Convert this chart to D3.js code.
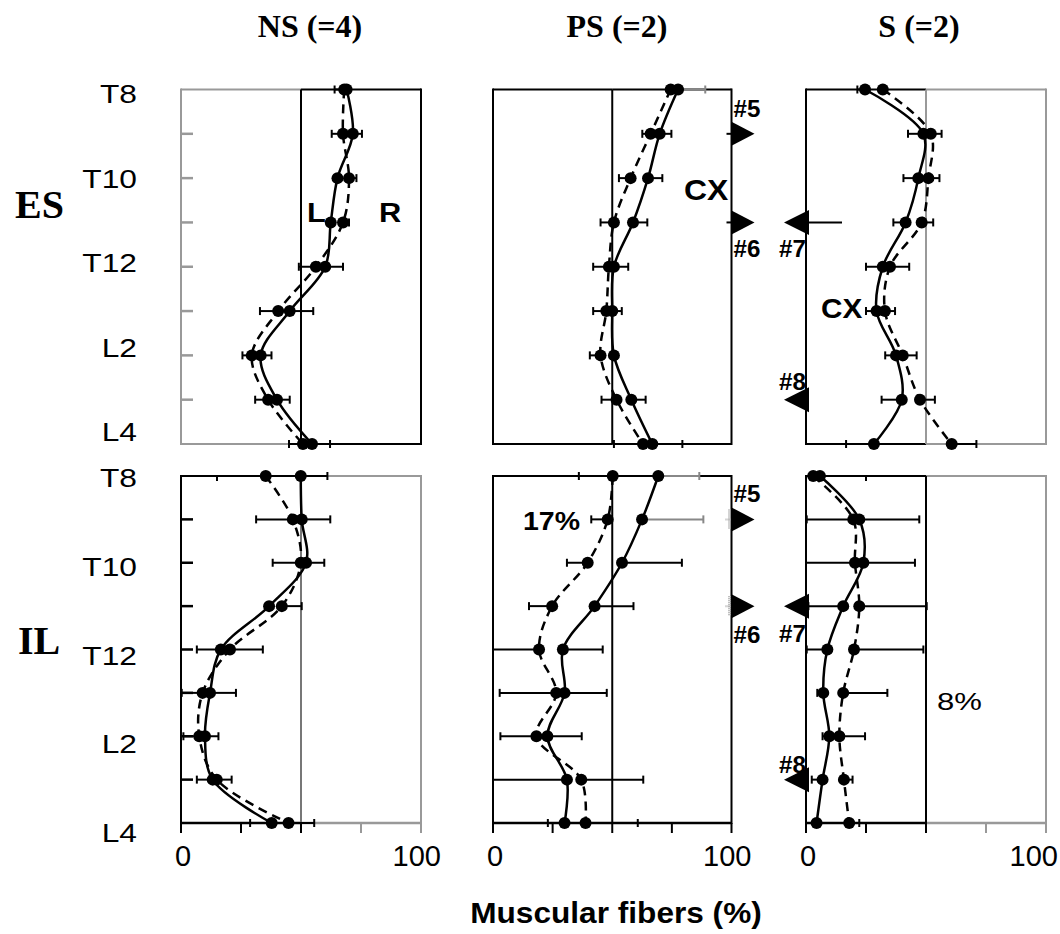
<!DOCTYPE html>
<html lang="en">
<head>
<meta charset="UTF-8">
<script src="https://d3js.org/d3.v7.min.js"></script>
<style>
  body { margin: 0; background: #fff; }
</style>
</head>
<body>
<div id="chart"></div>
<script>
// vertebral levels, top to bottom
const levels = ["T8", "T9", "T10", "T11", "T12", "L1", "L2", "L3", "L4"]
const levelLabels = ["T8", "T10", "T12", "L2", "L4"]
const xTicks = [0, 25, 50, 75, 100]
const columns = ["NS (=4)", "PS (=2)", "S (=2)"]
const rows = ["ES", "IL"]

// ES row (% muscular fibers), solid and dashed side, error bar ends
const nsEsSolid  = [69, 71.6, 65.2, 62.4, 60.1, 45.3, 33.2, 40, 54.6]
const nsEsDashed = [68, 67.5, 70, 67.5, 56.2, 40.5, 29.5, 36.3, 50.8]
const nsEsLo     = [64, 62.8, null, null, 49.1, 32.9, 25.6, 30.9, 45]
const nsEsHi     = [null, 75.4, 73.1, 70, 67.5, 55.1, 37.7, 45.3, 62.1]

const psEsSolid  = [77.6, 69.9, 65, 58.7, 50.7, 50, 50.7, 58, 66.8]
const psEsDashed = [74.5, 66.1, 57.7, 50.7, 48.6, 47.5, 45.1, 51.8, 62.9]
const psEsLo     = [null, 62.6, 52.8, 45.1, 42, 42, 40.6, 45.5, 50.7]
const psEsHi     = [89, 74.8, 71, 64.7, 56.7, 54, 52, 64, 79.4]

const sEsSolid  = [24.6, 48.9, 46.8, 41.5, 32, 29.4, 37.5, 39.9, 28.3]
const sEsDashed = [32, 52, 51, 48.2, 35, 32.9, 40.3, 47.5, 60.7]
const sEsLo     = [21.4, 42.5, 40.6, 36.4, 25, 25, 33, 31.5, 16.7]
const sEsHi     = [null, 56.5, 55.6, 53, 43, 37.1, 46.1, 53.7, 71]

// IL row
const nsIlSolid  = [49.9, 50.3, 52.1, 36.7, 16.6, 12.1, 10, 13.2, 37.8]
const nsIlDashed = [35.3, 46.6, 49.9, 42, 20.4, 9, 7.6, 14.9, 44.8]
const nsIlLo     = [null, 31.3, 38.2, null, 6.6, 0.3, 1, 6.6, 28.8]
const nsIlHi     = [61, 62.2, 59.7, 50.3, 34.1, 22.9, 15.6, 21.1, 55.5]

const psIlSolid  = [69.3, 62.5, 54.1, 42.6, 29.3, 30, 22.8, 31, 30]
const psIlDashed = [50.2, 48.1, 39.7, 24.8, 19.3, 26.5, 18.2, 37, 38.8]
const psIlLo     = [36, 41.2, 31, 15.1, 0, 2.8, 3.1, 0, 23]
const psIlHi     = [86.5, 88.2, 79.2, 58.9, 46, 47.7, 37.2, 63, 60.7]

const sIlSolid  = [5.8, 22.2, 23.9, 15.5, 8.9, 7.2, 9.7, 6.9, 4.4]
const sIlDashed = [3, 19.7, 20.4, 22.2, 20, 15.5, 13.9, 15.8, 18]
const sIlLo     = [null, 0.3, 0, 1, 0.3, 4.7, 6.9, 2.4, null]
const sIlHi     = [null, 47.2, 45.4, 50.3, 48.9, 33.9, 24.6, 19.4, 22.2]

const width = 1060, height = 934
const black = "#000", gray = "#999"

var svg = d3.select("#chart").append("svg")
    .attr("width", width)
    .attr("height", height)
    .style("background", "#fff")

// one x scale per column, one y scale per row
const xs = [[181, 421], [493, 731.5], [806, 1046]].map(r => d3.scaleLinear().domain([0, 100]).range(r))
const ys = [[89.5, 444], [476, 823]].map(r => d3.scalePoint().domain(levels).range(r))
const labelY = [[94, 432], [478, 833]].map(r => d3.scalePoint().domain(levelLabels).range(r))

function txt(x0, y0, s, o) {
    return svg.append("text")
        .attr("transform", "translate(" + x0 + "," + y0 + ") scale(" + (o.sx || 1) + ",1)")
        .attr("text-anchor", o.anchor || "start")
        .style("font-family", o.serif ? "'Liberation Serif','Times New Roman',serif" : "'Liberation Sans',Arial,sans-serif")
        .style("font-size", o.size + "px")
        .style("font-weight", o.bold ? "bold" : "normal")
        .attr("fill", "#000")
        .text(s)
}

function seg(x1, y1, x2, y2, color, w, dash) {
    svg.append("line")
        .attr("x1", x1).attr("y1", y1).attr("x2", x2).attr("y2", y2)
        .attr("stroke", color).attr("stroke-width", w || 2)
        .attr("stroke-dasharray", dash || null)
}

const panels = [
    { col: 0, row: 0, solid: nsEsSolid, dashed: nsEsDashed, lo: nsEsLo, hi: nsEsHi,
      left: gray, right: black, mid: black, leftTicks: gray },
    { col: 1, row: 0, solid: psEsSolid, dashed: psEsDashed, lo: psEsLo, hi: psEsHi,
      left: black, right: black, mid: black, grayHi: ["T8"],
      arrows: [["T9", "right"], ["T11", "right"]] },
    { col: 2, row: 0, solid: sEsSolid, dashed: sEsDashed, lo: sEsLo, hi: sEsHi,
      left: black, right: gray, mid: gray,
      arrows: [["T11", "left", 15], ["L3", "left"]] },
    { col: 0, row: 1, solid: nsIlSolid, dashed: nsIlDashed, lo: nsIlLo, hi: nsIlHi,
      left: black, right: gray, mid: "#777", leftTicks: black, topTick: 15, axis: true },
    { col: 1, row: 1, solid: psIlSolid, dashed: psIlDashed, lo: psIlLo, hi: psIlHi,
      left: black, right: black, mid: black, axis: true, grayHi: ["T8", "T9"], fuzzy: true,
      arrows: [["T9", "right"], ["T11", "right"]] },
    { col: 2, row: 1, solid: sIlSolid, dashed: sIlDashed, lo: sIlLo, hi: sIlHi,
      left: black, right: gray, mid: black, topTick: 25, axis: true,
      arrows: [["T11", "left"], ["L3", "left"]] }
]

panels.forEach(function (p) {
    var x = xs[p.col], y = ys[p.row]
    var x0 = x(0), xm = x(50), x1 = x(100)
    var y0 = y(levels[0]), y1 = y(levels[levels.length - 1])

    // frame: gray half first, black on top
    var halves = [[x0, xm, p.left, true], [xm, x1, p.right, false]]
    halves.sort((a, b) => (a[2] === gray ? -1 : 1) - (b[2] === gray ? -1 : 1))
    halves.forEach(function (h) {
        seg(h[0], y0, h[1], y0, h[2])
        seg(h[0], y1, h[1], y1, h[2], p.axis ? 2.5 : 2)
        seg(h[3] ? h[0] : h[1], y0 - 1, h[3] ? h[0] : h[1], y1 + 1, h[2])
    })
    seg(xm, y0, xm, y1, p.mid)

    if (p.leftTicks) {
        levels.slice(1, -1).forEach(l => seg(x0, y(l), x0 + 12, y(l), p.leftTicks, 2.5))
    }
    if (p.topTick) seg(x(p.topTick), y0, x(p.topTick), y0 + 5, black, 2)
    if (p.axis) {
        xTicks.forEach(t => seg(x(t), y1, x(t), y1 + 10, t > 50 ? p.right : p.left, 2))
        txt(x(0) + 2, 866, "0", { size: 29, anchor: "middle" })
        txt(Math.min(x(100) + 20, width - 2), 866, "100", { size: 29, anchor: "end" })
    }

    // error bars, drawn outward from the outer points
    levels.forEach(function (l, i) {
        var a = Math.min(p.solid[i], p.dashed[i]), b = Math.max(p.solid[i], p.dashed[i])
        var yy = y(l)
        if (p.lo[i] != null && p.lo[i] < a) {
            seg(x(p.lo[i]), yy, x(a), yy, black, 2)
            seg(x(p.lo[i]), yy - 4, x(p.lo[i]), yy + 4, black, 2)
        }
        if (p.hi[i] != null && p.hi[i] > b) {
            var c = (p.grayHi || []).includes(l) ? "#888" : black
            seg(x(b), yy, x(p.hi[i]), yy, c, 2)
            seg(x(p.hi[i]), yy - 4, x(p.hi[i]), yy + 4, c, 2)
        }
    })

    var line = d3.line()
        .x(d => x(d[1]))
        .y(d => y(d[0]))
        .curve(d3.curveCatmullRom.alpha(0.5))

    var series = [[p.dashed, "9,6"], [p.solid, null]]
    series.forEach(function (s) {
        var pts = levels.map((l, i) => [l, s[0][i]])
        svg.append("path")
            .attr("d", line(pts))
            .attr("fill", "none")
            .attr("stroke", black)
            .attr("stroke-width", 2.5)
            .attr("stroke-dasharray", s[1])
        svg.selectAll(null)
            .data(pts)
            .enter().append("circle")
            .attr("cx", d => x(d[1]))
            .attr("cy", d => y(d[0]))
            .attr("r", 6)
            .attr("fill", black)
    })

    // level markers (arrows)
    ;(p.arrows || []).forEach(function (a) {
        var yy = y(a[0])
        var pts
        if (a[1] === "right") {
            pts = [[x1, yy - 12], [x1 + 23, yy], [x1, yy + 12]]
            if (p.fuzzy) {
                seg(x1 - 2, yy - 10, x1 - 2, yy + 10, "#aaa", 3, "1,1")
                seg(x1 - 6, yy, x1, yy, "#aaa", 2, "1,1")
            } else {
                seg(x1 - 5, yy, x1, yy, black, 2)
            }
        } else {
            pts = [[x0 + 3, yy - 12.5], [x0 - 22, yy], [x0 + 3, yy + 12.5]]
            if (a[2]) seg(x0, yy, x(a[2]), yy, black, 2)
        }
        svg.append("path")
            .attr("d", d3.line()(pts) + "Z")
            .attr("fill", black)
    })
})

// vertebral level labels
rows.forEach(function (r, ri) {
    levelLabels.forEach(l => txt(137, labelY[ri](l) + 9, l, { size: 25, anchor: "end", sx: 1.27 }))
})

// column and row headers
var headX = [310, 617, 919]
columns.forEach((c, i) => txt(headX[i], 37, c, { size: 32, bold: true, serif: true, anchor: "middle" }))
txt(15, 218, rows[0], { size: 40, bold: true, serif: true })
txt(18, 654, rows[1], { size: 40, bold: true, serif: true })

// annotations
var yT = ys[0], yB = ys[1]
txt(307, 222, "L", { size: 28, bold: true, sx: 1.1 })
txt(379, 222, "R", { size: 28, bold: true, sx: 1.1 })
txt(684, 200, "CX", { size: 29, bold: true, sx: 1.1 })
txt(821, 318, "CX", { size: 27, bold: true, sx: 1.1 })
var hs = { size: 23, bold: true, sx: 1.05 }
txt(xs[1](100) + 2, yT("T9") - 17, "#5", hs)
txt(xs[1](100) + 2, yT("T11") + 35, "#6", hs)
txt(xs[2](0) - 27, yT("T11") + 35, "#7", hs)
txt(xs[2](0) - 27, yT("L3") - 10, "#8", hs)
txt(xs[1](100) + 2, yB("T9") - 17, "#5", hs)
txt(xs[1](100) + 2, yB("T11") + 37, "#6", hs)
txt(xs[2](0) - 27, yB("T11") + 36, "#7", hs)
txt(xs[2](0) - 27, yB("L3") - 7, "#8", hs)
txt(523, 530, "17%", { size: 25, bold: true, sx: 1.14 })
txt(937, 710, "8%", { size: 23, sx: 1.35 })

txt(616, 923, "Muscular fibers (%)", { size: 29, bold: true, anchor: "middle", sx: 1.09 })
</script>
</body>
</html>
